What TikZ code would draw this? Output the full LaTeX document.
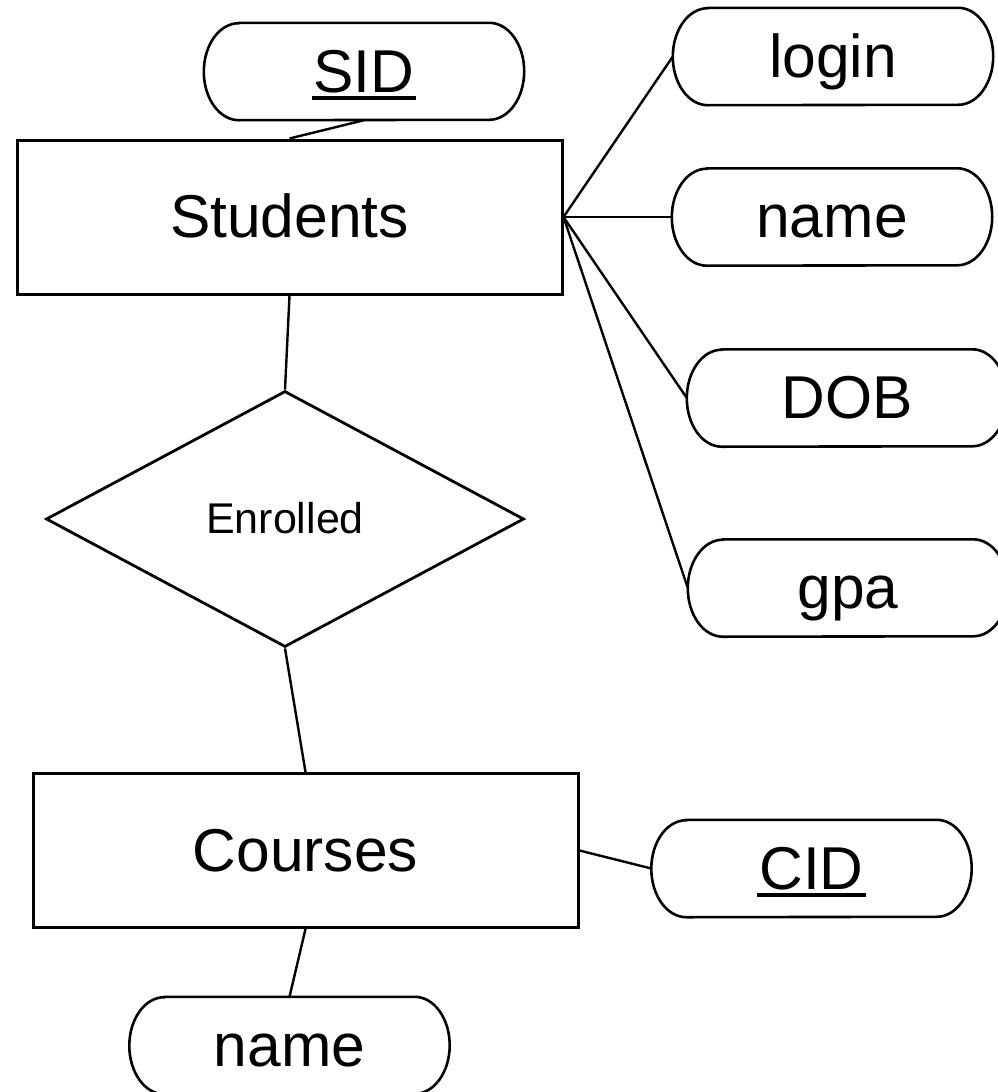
\documentclass[tikz,border=0pt]{standalone}
\usepackage{fontspec}
\setmainfont{Liberation Sans}
\usetikzlibrary{calc}
\usetikzlibrary{shapes.geometric}

\newcommand{\keyattr}[1]{\setbox0\hbox{#1}\rlap{\kern-2pt\rule[-7.5pt]{\dimexpr\wd0+4pt}{3.5pt}}\box0}

\begin{document}
\begin{tikzpicture}[x=1pt,y=-1pt]
			\def\rx{35pt}
			\def\ry{48.5pt}

			\tikzset{line/.style={draw,line width=2.4pt}}
			\tikzset{label/.style={font=\fontsize{60.5}{72}\selectfont,text height=54pt,text depth=12.5pt,inner sep=0pt}}
			\tikzset{entity/.style={label,draw,line width=3pt,rectangle,minimum width=545pt,minimum height=154pt}}
			\tikzset{relation/.style={draw,line width=2.8pt,diamond,aspect=1.87,inner sep=0pt,minimum width=478pt,minimum height=256pt,
						font=\fontsize{43}{50}\selectfont,text height=38pt,text depth=9.5pt}}
			\tikzset{attr/.style={label,rectangle,minimum width=320pt,minimum height=97pt}}
			\tikzset{outline/.style={draw,line width=2.6pt}}

			\useasboundingbox (0,0) rectangle (997,1092);

			\node[entity] (students) at (289.5, 217) {Students};
			\node[entity] (courses) at (305.5, 850.5) {Courses};
			\node[relation] (enrolled) at (285, 519) {Enrolled};

			\node[attr] (sid) at (364, 71.5) {\keyattr{SID}};
			\node[attr] (login) at (833, 56.5) {login};
			\node[attr] (sname) at (832, 217) {name};
			\node[attr] (dob) at (847, 398) {DOB};
			\node[attr] (gpa) at (848, 588) {gpa};
			\node[attr] (cid) at (811.5, 868.5) {\keyattr{CID}};
			\node[attr] (cname) at (289.5, 1045.5) {name};

			% attribute outline: straight top and bottom, half ellipses at the ends
			\foreach \n in {sid,login,sname,dob,gpa,cid,cname}
				\path[outline] ($(\n.north west)+(\rx,0)$) -- ($(\n.north east)+(-\rx,0)$)
					arc[start angle=90,end angle=-90,x radius=\rx,y radius=\ry]
					-- ($(\n.south west)+(\rx,0)$)
					arc[start angle=270,end angle=90,x radius=\rx,y radius=\ry] -- cycle;

			\path[line] (sid.south) to (students.north);
			\path[line] (students.east) to (login.west);
			\path[line] (students.east) to (sname.west);
			\path[line] (students.east) to (dob.west);
			\path[line] (students.east) to (gpa.west);

			\path[line] (students.south) to (enrolled.north);
			\path[line] (enrolled.south) to (courses.north);

			\path[line] (courses.east) to (cid.west);
			\path[line] (courses.south) to (cname.north);
\end{tikzpicture}
\end{document}
